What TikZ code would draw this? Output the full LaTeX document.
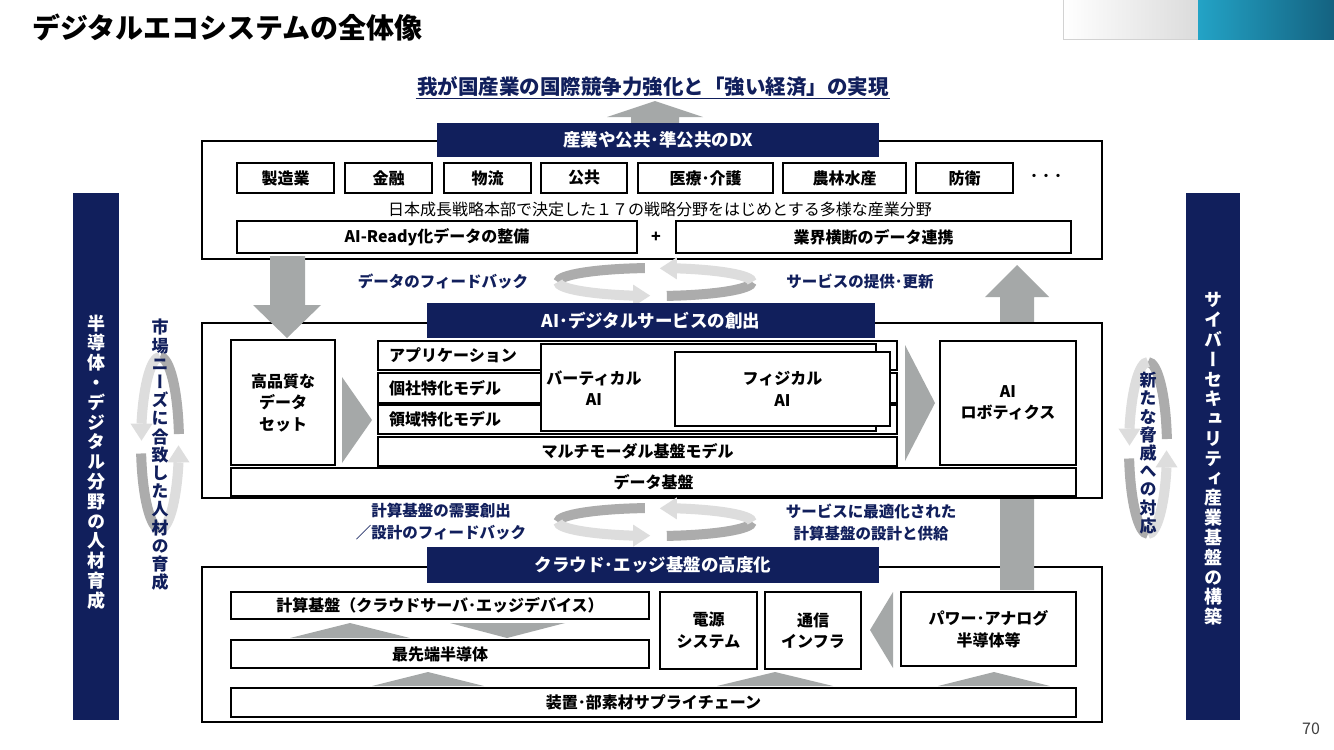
\documentclass[tikz,border=0pt]{standalone}
\usepackage{fontspec}
\setmainfont{Noto Sans CJK JP}
\newfontfamily\vjp{Noto Sans CJK JP}[RawFeature=+vert]
\usetikzlibrary{positioning}
\definecolor{navy}{RGB}{17,31,92}
\definecolor{arrowgray}{RGB}{165,168,168}
\definecolor{ringdark}{RGB}{172,172,172}
\definecolor{ringlight}{RGB}{221,221,221}
\definecolor{tealA}{RGB}{35,163,198}
\definecolor{tealB}{RGB}{20,98,128}
\tikzset{
  sectbox/.style={draw=black, line width=1.3pt, fill=white, inner sep=0pt},
  itembox/.style={draw=black, line width=2.6pt, fill=white, inner sep=0pt, align=center,
    font=\fontsize{16}{21.5}\selectfont\bfseries},
  navylabel/.style={fill=navy, text=white, inner sep=0pt, font=\fontsize{17.5}{20}\selectfont\bfseries},
  navytext/.style={text=navy, align=center, font=\fontsize{15.5}{22}\selectfont\bfseries},
  rowlabel/.style={anchor=west, inner sep=0pt, font=\fontsize{16}{19}\selectfont\bfseries},
  blockarrow/.style={fill=arrowgray, draw=none},
  sidebar/.style={fill=navy, inner sep=0pt},
  vertlabel/.style={align=center, inner sep=0pt, font=\vjp\fontsize{18}{19.8}\selectfont\bfseries},
}
\begin{document}
\begin{tikzpicture}[x=1pt,y=-1pt]
\useasboundingbox (0,0) rectangle (1334,750);
\fill[white] (0,0) rectangle (1334,750);
\node[anchor=west, inner sep=0pt, font=\fontsize{28}{32}\selectfont\bfseries] (title) at (32,28) {デジタルエコシステムの全体像};
\shade[left color=white, right color=gray!28] (1063,0) rectangle (1198,39);
\draw[gray!35, line width=0.8] (1063,0) -- (1063,39) -- (1198,39);
\shade[left color=tealA, right color=tealB] (1198,0) rectangle (1334,39);
\node[text=black!75, font=\fontsize{16}{18}\selectfont] (pageno) at (1311,729) {70};

\node[text=navy, inner sep=1.5pt, font=\fontsize{20.5}{24}\selectfont\bfseries] (goal) at (653,87) {我が国産業の国際競争力強化と「強い経済」の実現};
\draw[navy, line width=1.2] (goal.south west) -- (goal.south east);
\fill[blockarrow] (631,125) -- (631,117) -- (607,117) -- (655,101) -- (703,117) -- (679,117) -- (679,125) -- cycle;

\node[sectbox, minimum width=900, minimum height=118] (dxsec) at (652,200) {};
\node[sectbox, minimum width=900, minimum height=155] (cloudsec) at (652,644.5) {};
\fill[blockarrow] (1000,590) -- (1000,297) -- (985,297) -- (1017,265) -- (1049,297) -- (1034,297) -- (1034,590) -- cycle;
\node[sectbox, minimum width=900, minimum height=175] (aisec) at (652,410.5) {};
\fill[blockarrow] (270,256) -- (270,305) -- (253,305) -- (287,338) -- (321,305) -- (305,305) -- (305,256) -- cycle;

\foreach \cx/\cy/\rot/\rx/\ry in {655/282/0/97/14, 655/522/0/97/14, 160/443/-90/86/19, 1148/448/-90/86/19} {
  \begin{scope}[shift={(\cx,\cy)}, rotate=\rot, line width=10]
    \draw[ringdark] ({\rx*cos(-96)},{\ry*sin(-96)}) arc[start angle=-96, end angle=-180, x radius=\rx, y radius=\ry];
    \draw[ringlight] (-\rx,0) arc[start angle=180, end angle=103, x radius=\rx, y radius=\ry];
    \fill[ringlight] ({\rx*cos(103)},{\ry*sin(103)-11}) -- ({\rx*cos(103)+17},{\ry*sin(103)}) -- ({\rx*cos(103)},{\ry*sin(103)+11}) -- cycle;
    \draw[ringdark] ({\rx*cos(83)},{\ry*sin(83)}) arc[start angle=83, end angle=0, x radius=\rx, y radius=\ry];
    \draw[ringlight] (\rx,0) arc[start angle=0, end angle=-77, x radius=\rx, y radius=\ry];
    \fill[ringlight] ({\rx*cos(-77)},{\ry*sin(-77)-11}) -- ({\rx*cos(-77)-17},{\ry*sin(-77)}) -- ({\rx*cos(-77)},{\ry*sin(-77)+11}) -- cycle;
  \end{scope}
}

\node[navylabel, minimum width=442, minimum height=34] (dxlabel) at (658,140) {産業や公共･準公共のDX};
\node[navylabel, minimum width=448, minimum height=35] (ailabel) at (651,320.5) {AI･デジタルサービスの創出};
\node[navylabel, minimum width=452, minimum height=36] (cloudlabel) at (653,565) {クラウド･エッジ基盤の高度化};

\foreach \cx/\w/\name/\txt in {285.5/97/mfg/製造業, 388.5/87/fin/金融, 487.5/87/logi/物流, 584/86/pub/公共, 705.5/135/care/医療･介護, 844.5/123/agri/農林水産, 964.5/97/def/防衛}
  \node[itembox, minimum width=\w, minimum height=30] (\name) at (\cx,178) {\txt};
\node[font=\fontsize{12}{14}\selectfont\bfseries] (etc) at (1046,177) {・・・};
\node[font=\fontsize{16}{19}\selectfont] (sectors) at (660,209) {日本成長戦略本部で決定した１７の戦略分野をはじめとする多様な産業分野};
\node[itembox, minimum width=400, minimum height=32] (aiready) at (437,237) {AI-Ready化データの整備};
\node[font=\fontsize{16}{19}\selectfont\bfseries] (plus) at (656,237) {+};
\node[itembox, minimum width=395, minimum height=32] (crossdata) at (873.5,237) {業界横断のデータ連携};

\node[navytext] (fbdata) at (443,281) {データのフィードバック};
\node[navytext] (svcupd) at (860,281) {サービスの提供･更新};
\node[navytext] (demand) at (441,522) {計算基盤の需要創出\\／設計のフィードバック};
\node[navytext] (supply) at (871,522) {サービスに最適化された\\計算基盤の設計と供給};

\node[itembox, minimum width=104, minimum height=125] (dataset) at (283,402.5) {高品質な\\データ\\セット};
\fill[blockarrow] (342,377) -- (372,420) -- (342,463) -- cycle;
\node[itembox, minimum width=519, minimum height=29] (approw) at (637.5,355.5) {};
\node[itembox, minimum width=519, minimum height=30] (corprow) at (637.5,388) {};
\node[itembox, minimum width=519, minimum height=29] (domrow) at (637.5,419.5) {};
\node[rowlabel] (applbl) at (389,355.5) {アプリケーション};
\node[rowlabel] (corplbl) at (389,388) {個社特化モデル};
\node[rowlabel] (domlbl) at (389,419.5) {領域特化モデル};
\node[draw=black, line width=1.3pt, fill=white, minimum width=335, minimum height=87] (vertai) at (708.5,387.5) {};
\node[align=center, font=\fontsize{16}{21.5}\selectfont\bfseries] (vertlbl) at (594,388) {バーティカル\\AI};
\node[itembox, line width=2.2pt, minimum width=215, minimum height=74] (physai) at (782.5,389) {フィジカル\\AI};
\node[itembox, minimum width=519, minimum height=29] (mmodel) at (637.5,451.5) {マルチモーダル基盤モデル};
\fill[blockarrow] (905,345) -- (935,403) -- (905,461) -- cycle;
\node[itembox, minimum width=136, minimum height=124] (robot) at (1008,403) {AI\\ロボティクス};
\node[itembox, minimum width=845, minimum height=28] (database) at (653.5,482) {データ基盤};

\node[itembox, minimum width=418, minimum height=27] (compute) at (440,605.5) {計算基盤（クラウドサーバ･エッジデバイス）};
\fill[blockarrow] (290,638) -- (350,623) -- (410,638) -- cycle;
\fill[blockarrow] (450,623) -- (565,623) -- (507,638) -- cycle;
\node[itembox, minimum width=418, minimum height=28] (leadsemi) at (440,654) {最先端半導体};
\node[itembox, minimum width=97, minimum height=77] (power) at (708.5,630.5) {電源\\システム};
\node[itembox, minimum width=96, minimum height=77] (telecom) at (813,630.5) {通信\\インフラ};
\fill[blockarrow] (893,592) -- (870,630) -- (893,668) -- cycle;
\node[itembox, minimum width=175, minimum height=74] (analog) at (988.5,629) {パワー･アナログ\\半導体等};
\foreach \tx/\hw in {428/56, 775/58, 994/56}
  \fill[blockarrow] (\tx-\hw,686) -- (\tx,672) -- (\tx+\hw,686) -- cycle;
\node[itembox, minimum width=845, minimum height=29] (supplych) at (653.5,702.5) {装置･部素材サプライチェーン};

\node[sidebar, minimum width=46, minimum height=527] (talentbar) at (96,456.5) {};
\node[vertlabel, text=white] (talenttxt) at (96,462) {半\\導\\体\\・\\デ\\ジ\\タ\\ル\\分\\野\\の\\人\\材\\育\\成};
\node[sidebar, minimum width=54, minimum height=527] (cyberbar) at (1213,456.5) {};
\node[vertlabel, text=white] (cybertxt) at (1213,459) {サ\\イ\\バ\\ー\\セ\\キ\\ュ\\リ\\テ\\ィ\\産\\業\\基\\盤\\の\\構\\築};
\node[vertlabel, text=navy, font=\vjp\fontsize{17}{18.2}\selectfont\bfseries] (markettxt) at (160,455) {市\\場\\ニ\\ー\\ズ\\に\\合\\致\\し\\た\\人\\材\\の\\育\\成};
\node[vertlabel, text=navy, font=\vjp\fontsize{17}{18.2}\selectfont\bfseries] (threattxt) at (1148,453) {新\\た\\な\\脅\\威\\へ\\の\\対\\応};
\end{tikzpicture}
\end{document}
